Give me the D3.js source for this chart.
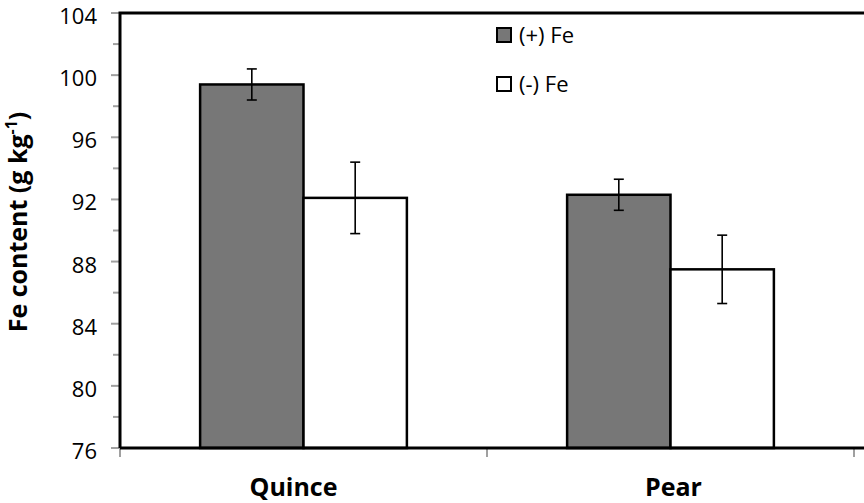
<!DOCTYPE html>
<html>
<head>
<meta charset="utf-8">
<script src="https://cdn.jsdelivr.net/npm/d3@7/dist/d3.min.js"></script>
<style>
  html, body { margin: 0; padding: 0; background: #fff; }
  svg { display: block; }
  text { font-family: "Open Sans", "DejaVu Sans", sans-serif; }
</style>
</head>
<body>
<svg id="chart" width="864" height="503"></svg>
<script>
// ---- data ----
const categories = ["Quince", "Pear"];
const seriesNames = ["(+) Fe", "(-) Fe"];
const plusFe = [99.4, 92.3];
const minusFe = [92.1, 87.5];
const plusFeErr = [1.0, 1.0];
const minusFeErr = [2.3, 2.2];
const yTicks = [76, 80, 84, 88, 92, 96, 100, 104];
const yMinorTicks = [78, 82, 86, 90, 94, 98, 102];

const series = [
  { name: seriesNames[0], values: plusFe, errs: plusFeErr, fill: "#777777" },
  { name: seriesNames[1], values: minusFe, errs: minusFeErr, fill: "#ffffff" }
];

const svg = d3.select("#chart");
const pLeft = 120, pTop = 13, pBottom = 448, bandRight = 854;

const y = d3.scaleLinear().domain([76, 104]).range([pBottom, pTop]);
const x0 = d3.scaleBand().domain(categories).range([pLeft, bandRight]).paddingInner(0).paddingOuter(0);
const x1 = d3.scaleBand().domain(seriesNames).range([0, x0.bandwidth()]).paddingInner(0).paddingOuter(0.775);

// y ticks (gray)
svg.append("g").selectAll("line").data(yTicks).join("line")
  .attr("x1", pLeft - 9).attr("x2", pLeft).attr("y1", d => y(d)).attr("y2", d => y(d))
  .attr("stroke", "#a0a0a0").attr("stroke-width", 2);
svg.append("g").selectAll("line").data(yMinorTicks).join("line")
  .attr("x1", pLeft - 7).attr("x2", pLeft).attr("y1", d => y(d)).attr("y2", d => y(d))
  .attr("stroke", "#a0a0a0").attr("stroke-width", 2);
svg.append("g").selectAll("text").data(yTicks).join("text")
  .attr("x", 97).attr("y", d => y(d) + 11)
  .attr("text-anchor", "end").attr("font-size", 22).attr("fill", "#000")
  .text(d => d);

// category ticks
const catBounds = [pLeft, pLeft + x0.bandwidth(), bandRight];
svg.append("g").selectAll("line").data(catBounds).join("line")
  .attr("x1", d => d).attr("x2", d => d).attr("y1", pBottom).attr("y2", pBottom + 9)
  .attr("stroke", "#a0a0a0").attr("stroke-width", 2);

// bars
const groups = svg.append("g").selectAll("g").data(series).join("g");
groups.selectAll("rect").data(s => s.values.map((v, i) => ({ s, v, i }))).join("rect")
  .attr("x", d => x0(categories[d.i]) + x1(d.s.name))
  .attr("y", d => y(d.v))
  .attr("width", x1.bandwidth())
  .attr("height", d => pBottom - y(d.v))
  .attr("fill", d => d.s.fill)
  .attr("stroke", "#000").attr("stroke-width", 2.5);

// error bars
groups.each(function (s) {
  const g = d3.select(this);
  s.values.forEach((v, i) => {
    const cx = x0(categories[i]) + x1(s.name) + x1.bandwidth() / 2;
    const hi = y(v + s.errs[i]), lo = y(v - s.errs[i]);
    g.append("line").attr("x1", cx).attr("x2", cx).attr("y1", hi).attr("y2", lo)
      .attr("stroke", "#000").attr("stroke-width", 1.6);
    [hi, lo].forEach(yy => g.append("line")
      .attr("x1", cx - 5).attr("x2", cx + 5).attr("y1", yy).attr("y2", yy)
      .attr("stroke", "#000").attr("stroke-width", 1.6));
  });
});

// frame (left, top, bottom)
svg.append("path")
  .attr("d", `M${pLeft},${pBottom} L${pLeft},${pTop} L${900},${pTop} M${pLeft},${pBottom} L${900},${pBottom}`)
  .attr("fill", "none").attr("stroke", "#000").attr("stroke-width", 3);

// category labels
svg.append("g").selectAll("text").data(categories).join("text")
  .attr("x", (d, i) => x0(d) + x0.bandwidth() / 2 + (i === 0 ? -10 : 3))
  .attr("y", 496)
  .attr("text-anchor", "middle").attr("font-size", 25).attr("font-weight", "bold")
  .text(d => d);

// y axis title
const yt = svg.append("text")
  .attr("transform", `translate(27,${222}) rotate(-90)`)
  .attr("text-anchor", "middle").attr("font-size", 25).attr("font-weight", "bold");
yt.append("tspan").text("Fe content (g kg");
yt.append("tspan").attr("dy", -10).attr("font-size", 16).text("-1");
yt.append("tspan").attr("dy", 10).text(")");

// legend
const legend = svg.append("g").selectAll("g").data(series).join("g")
  .attr("transform", (d, i) => `translate(497,${28 + i * 49})`);
legend.append("rect").attr("width", 14).attr("height", 14)
  .attr("fill", d => d.fill).attr("stroke", "#000").attr("stroke-width", 2);
legend.append("text").attr("x", 22).attr("y", 15)
  .attr("font-size", 22).text(d => d.name);
</script>
</body>
</html>
